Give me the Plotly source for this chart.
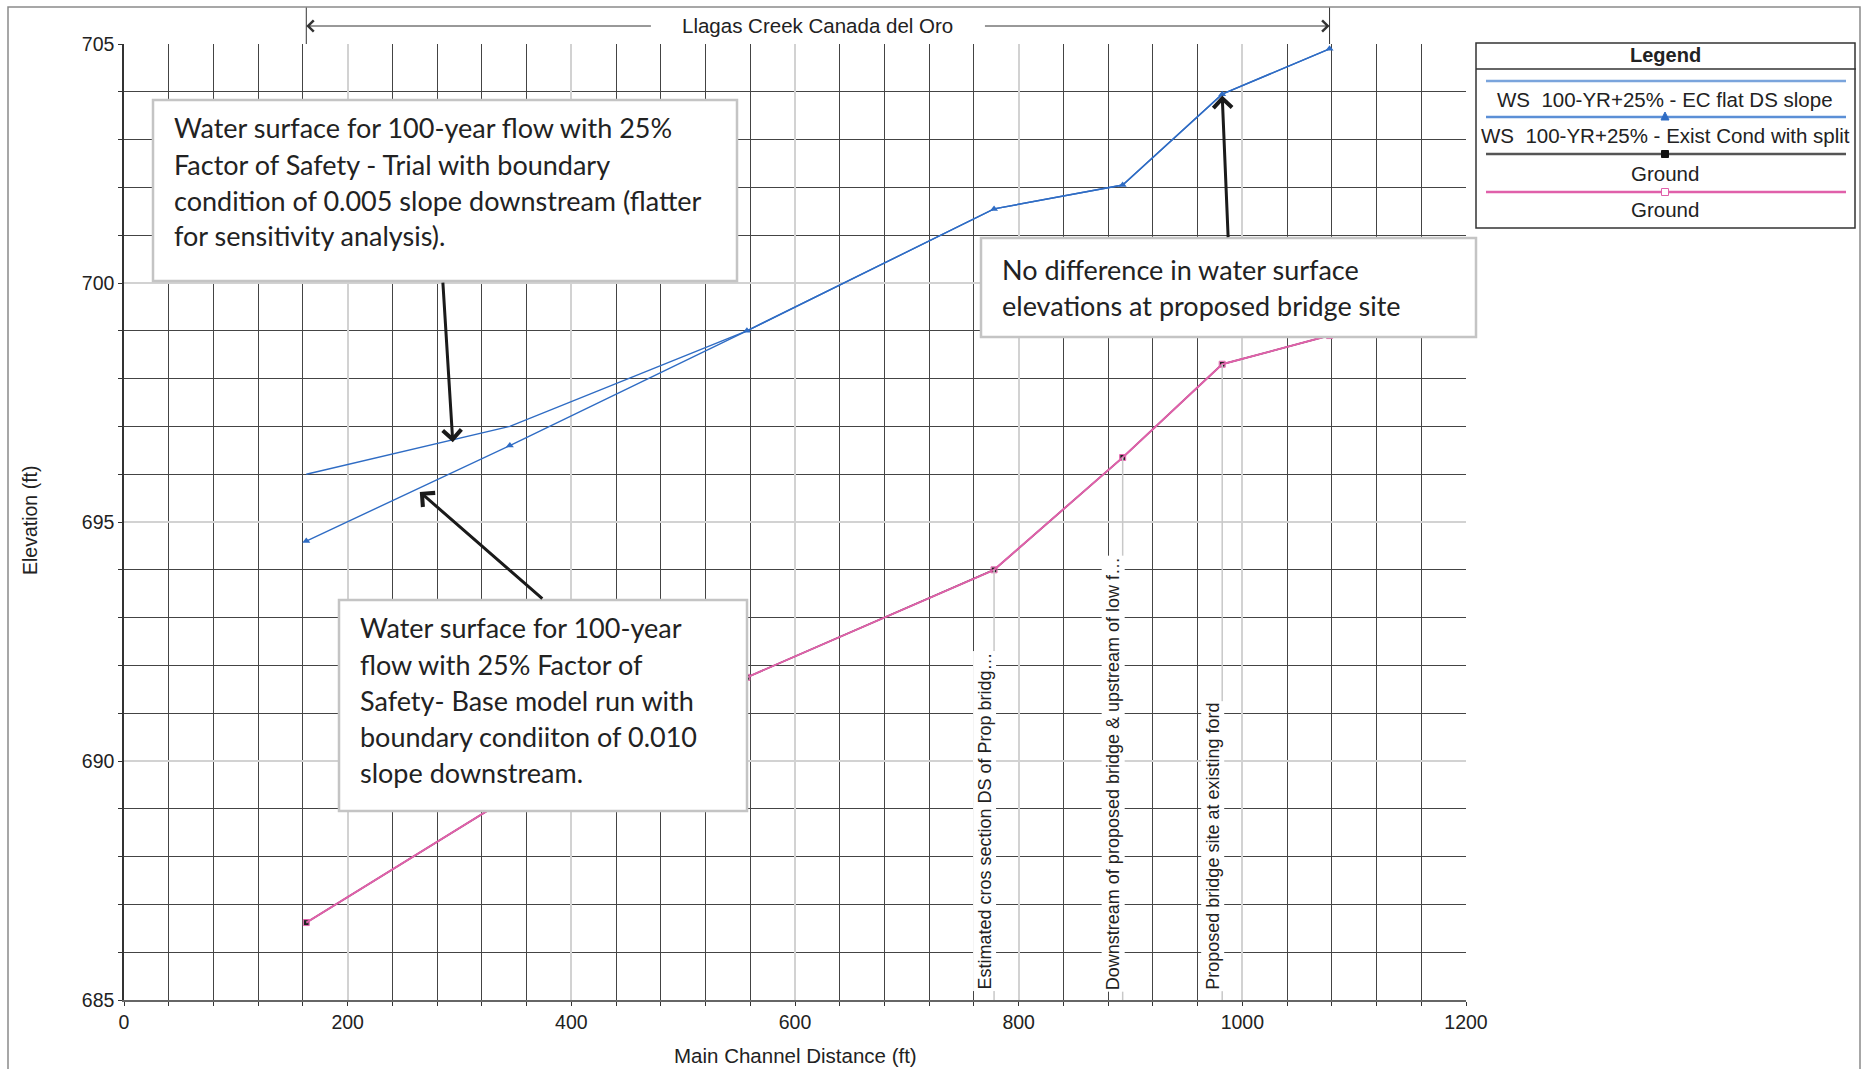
import plotly.graph_objects as go

# ---------------- data ----------------
stations = [163, 345, 557, 778, 893, 982, 1078]          # Main channel distance (ft)
ws_ec_flat = [696.0, 697.0, 699.0, 701.55, 702.05, 703.95, 704.9]
ws_exist_cond = [694.6, 696.6, 699.0, 701.55, 702.05, 703.95, 704.9]
ground = [686.62, 689.25, 691.75, 694.0, 696.35, 698.3, 698.9]

bridge_idx = [3, 4, 5]
bridge_labels = [
    "Estimated cros section DS of Prop bridg\u2026",
    "Downstream of proposed bridge &amp; upstream of low f\u2026",
    "Proposed bridge site at existing ford",
]
reach_name = "Llagas Creek Canada del Oro"

legend_names = [
    "WS\u00a0 100-YR+25% - EC flat DS slope",
    "WS\u00a0 100-YR+25% - Exist Cond with split",
    "Ground",
    "Ground",
]

note1 = ["Water surface for 100-year flow with 25%",
         "Factor of Safety - Trial with boundary",
         "condition of 0.005 slope downstream (flatter",
         "for sensitivity analysis)."]
note2 = ["Water surface for 100-year",
         "flow with 25% Factor of",
         "Safety- Base model run with",
         "boundary condiiton of 0.010",
         "slope downstream."]
note3 = ["No difference in water surface",
         "elevations at proposed bridge site"]

# ---------------- layout geometry (pixels) ----------------
FW, FH = 1866, 1069
L, R, T, B = 124, 1466, 44, 1000
PW, PH = R - L, B - T


def px(x):
    return (x - L) / PW


def py(y):
    return (B - y) / PH


ARIAL = "Liberation Sans, Arial, sans-serif"
CAL = "Lato, Carlito, Calibri, sans-serif"
BLUE = "#2f6cc4"
PINK = "#e060aa"

fig = go.Figure()

fig.add_trace(go.Scatter(x=stations, y=ground, mode="lines+markers", name="Ground",
                         line=dict(color="#222222", width=1.5),
                         marker=dict(symbol="square", size=5, color="#222222"),
                         showlegend=False))
fig.add_trace(go.Scatter(x=stations, y=ground, mode="lines+markers", name="Ground",
                         line=dict(color=PINK, width=2),
                         marker=dict(symbol="square-open", size=6, color=PINK, line=dict(width=1)),
                         showlegend=False))
fig.add_trace(go.Scatter(x=stations, y=ws_ec_flat, mode="lines", name=legend_names[0],
                         line=dict(color=BLUE, width=1.4), showlegend=False))
fig.add_trace(go.Scatter(x=stations, y=ws_exist_cond, mode="lines+markers", name=legend_names[1],
                         line=dict(color=BLUE, width=1.4),
                         marker=dict(symbol="triangle-up", size=7, color=BLUE),
                         showlegend=False))

shapes = []
annotations = []


def text_ann(x, y, s, size, family=ARIAL, xanchor="center", yanchor="middle", **kw):
    d = dict(xref="paper", yref="paper", x=x, y=y, xanchor=xanchor, yanchor=yanchor, text=s,
             showarrow=False, font=dict(family=family, size=size, color="#222"))
    d.update(kw)
    annotations.append(d)


# station marker lines for bridge cross sections
for i, lab in zip(bridge_idx, bridge_labels):
    shapes.append(dict(type="line", xref="x", yref="y", x0=stations[i], x1=stations[i],
                       y0=685, y1=ground[i], line=dict(color="#c8c8c8", width=1.5), layer="above"))
    annotations.append(dict(xref="x", yref="y", x=stations[i], y=685, xanchor="right", yanchor="bottom",
                            xshift=2, yshift=8, text=lab, textangle=-90, showarrow=False,
                            bgcolor="white", borderpad=1,
                            font=dict(family=ARIAL, size=18, color="#222")))

# reach extent marker at top
x_lo, x_hi = stations[0], stations[-1]
x_mid = (x_lo + x_hi) / 2
gap = 148
for xe in (x_lo, x_hi):
    shapes.append(dict(type="line", xref="x", yref="paper", x0=xe, x1=xe, y0=1, y1=py(7),
                       line=dict(color="#333", width=1)))
for xe, xt in ((x_lo, x_mid - gap), (x_hi, x_mid + gap)):
    annotations.append(dict(xref="x", yref="paper", x=xe, y=py(26), axref="x", ayref="pixel",
                            ax=xt, ay=0, text="", showarrow=True, arrowhead=4,
                            arrowwidth=1, arrowsize=2.2, arrowcolor="#333"))
annotations.append(dict(xref="x", yref="paper", x=x_mid, y=py(26), xanchor="center", yanchor="middle",
                        text=reach_name, showarrow=False,
                        font=dict(family=ARIAL, size=20.5, color="#222")))

# axis titles
text_ann(px(30), py(521), "Elevation (ft)", 19.5, textangle=-90)
text_ann(px(795), py(1055), "Main Channel Distance (ft)", 20.5)


# note boxes
def note_box(x0, y0, x1, y1, lines, tx, ty0, dy):
    shapes.append(dict(type="rect", xref="paper", yref="paper", x0=px(x0), x1=px(x1), y0=py(y1), y1=py(y0),
                       fillcolor="white", line=dict(color="#c4c4c4", width=2.5), layer="above"))
    for k, s in enumerate(lines):
        text_ann(px(tx), py(ty0 + k * dy), s, 27, family=CAL, xanchor="left")


note_box(153, 100, 737, 281, note1, 172, 128, 36)
note_box(339, 600, 747, 811, note2, 358, 628, 36.2)
note_box(981, 238, 1476, 337, note3, 1000, 269, 36)

# pointer arrows (heads at data locations, tails at box edges in pixels)
annotations.append(dict(xref="x", yref="y", x=294, y=696.67, ax=-10, ay=-161, text="", showarrow=True,
                        arrowhead=4, arrowwidth=3, arrowsize=1.2, arrowcolor="#1a1a1a"))
annotations.append(dict(xref="x", yref="y", x=264.5, y=695.63, ax=124, ay=108, text="", showarrow=True,
                        arrowhead=4, arrowwidth=3, arrowsize=1.2, arrowcolor="#1a1a1a"))
annotations.append(dict(xref="x", yref="y", x=stations[5], y=ws_exist_cond[5] - 0.03, ax=6, ay=143, text="",
                        showarrow=True, arrowhead=4, arrowwidth=3, arrowsize=1.2, arrowcolor="#1a1a1a"))

# custom legend
LX0, LX1, LY0, LY1 = 1476, 1855, 43, 228
shapes.append(dict(type="rect", xref="paper", yref="paper", x0=px(LX0), x1=px(LX1), y0=py(LY1), y1=py(LY0),
                   fillcolor="white", line=dict(color="#333", width=1.5)))
shapes.append(dict(type="line", xref="paper", yref="paper", x0=px(LX0), x1=px(LX1 + 1), y0=py(69), y1=py(69),
                   line=dict(color="#333", width=1.5)))
text_ann(px(1665), py(55), "<b>Legend</b>", 20)
leg_colors = ["#7aa4dc", "#5b8fd6", "#555555", PINK]
line_ys = [81, 117, 154, 192]
label_ys = [99, 136, 173, 209]
cx = 1665
for c, ly, ty, nm in zip(leg_colors, line_ys, label_ys, legend_names):
    shapes.append(dict(type="line", xref="paper", yref="paper", x0=px(1486), x1=px(1846), y0=py(ly), y1=py(ly),
                       line=dict(color=c, width=2.5)))
    text_ann(px(cx), py(ty), nm, 20.5)
# legend markers
shapes.append(dict(type="path", xref="paper", yref="paper",
                   path="M {} {} L {} {} L {} {} Z".format(px(cx - 4), py(120), px(cx + 4), py(120), px(cx), py(112)),
                   fillcolor="#2f6cc4", line=dict(color="#2f6cc4", width=1)))
shapes.append(dict(type="rect", xref="paper", yref="paper", x0=px(cx - 3.5), x1=px(cx + 3.5),
                   y0=py(157.5), y1=py(150.5), fillcolor="#111", line=dict(color="#111", width=1)))
shapes.append(dict(type="rect", xref="paper", yref="paper", x0=px(cx - 3.5), x1=px(cx + 3.5),
                   y0=py(195.5), y1=py(188.5), fillcolor="white", line=dict(color=PINK, width=1)))

# outer frame
shapes.append(dict(type="rect", xref="paper", yref="paper", x0=px(8), x1=px(1860), y0=py(1100), y1=py(7),
                   line=dict(color="#8a8a8a", width=1.5)))

fig.update_layout(
    width=FW, height=FH, autosize=False,
    margin=dict(l=L, r=FW - R, t=T, b=FH - B, pad=0),
    paper_bgcolor="white", plot_bgcolor="white",
    shapes=shapes, annotations=annotations, showlegend=False,
    font=dict(family=ARIAL, size=19, color="#222"),
)
fig.update_xaxes(range=[0, 1200], tickmode="linear", tick0=0, dtick=200,
                 showgrid=True, gridcolor="#d2d2d2", gridwidth=1.5,
                 ticks="outside", ticklen=4, tickcolor="#333", tickwidth=1,
                 showline=True, linecolor="#666", linewidth=2, zeroline=False,
                 tickfont=dict(family=ARIAL, size=19.5, color="#222"),
                 minor=dict(tickmode="linear", tick0=0, dtick=40, showgrid=True, gridcolor="#444444",
                            gridwidth=1, ticks="outside", ticklen=4, tickcolor="#333"))
fig.update_yaxes(range=[685, 705], tickmode="linear", tick0=685, dtick=5,
                 showgrid=True, gridcolor="#d2d2d2", gridwidth=1.5,
                 ticks="outside", ticklen=4, tickcolor="#333", tickwidth=1,
                 showline=True, linecolor="#333", linewidth=1.5, zeroline=False,
                 tickfont=dict(family=ARIAL, size=19.5, color="#222"),
                 minor=dict(tickmode="linear", tick0=685, dtick=1, showgrid=True, gridcolor="#444444",
                            gridwidth=1, ticks="outside", ticklen=4, tickcolor="#333"))

fig.write_html("out.html")
